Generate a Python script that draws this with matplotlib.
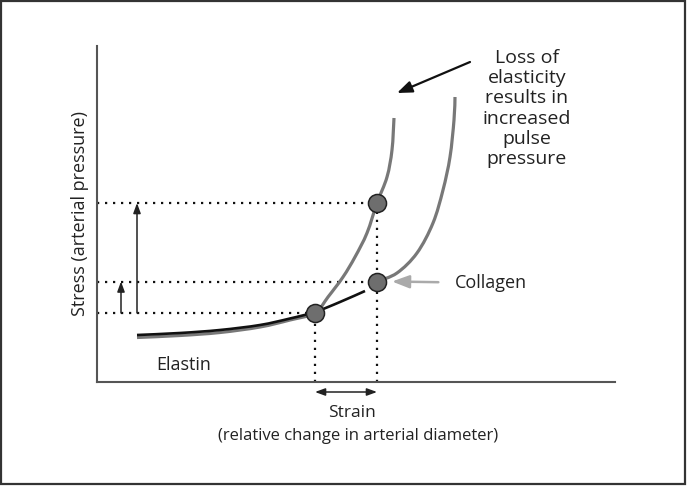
import numpy as np
import matplotlib
matplotlib.use('Agg')
import matplotlib.pyplot as plt
from matplotlib.patches import Rectangle, PathPatch
from matplotlib.path import Path

plt.rcParams['font.family'] = ['Open Sans', 'DejaVu Sans']

# curves (strain, stress in arbitrary units)
elastin_x = [40, 83, 123, 163, 193, 218, 243, 268]
elastin_y = [47, 49, 52, 57, 63.5, 70, 80, 91]

stiff_x = [40, 83, 123, 163, 193, 218, 231, 246, 258, 270, 280, 290, 295, 297]
stiff_y = [44.5, 46.5, 49.5, 55, 62, 69, 85, 105, 125, 149, 179, 205, 232, 264]

collagen_x = [280, 300, 320, 336, 346, 353, 357, 358]
collagen_y = [100.5, 109, 129, 159, 192, 225, 262, 285]

pts_x = [218, 280, 280]
pts_y = [69, 179, 100.5]

loss_text = "Loss of\nelasticity\nresults in\nincreased\npulse\npressure"


def smooth_path(xs, ys):
    # bezier segments through the read points (Catmull-Rom tangents)
    p = np.column_stack([xs, ys]).astype(float)
    verts = [p[0]]
    codes = [Path.MOVETO]
    for i in range(len(p) - 1):
        p0 = p[i - 1] if i > 0 else p[i]
        p3 = p[i + 2] if i + 2 < len(p) else p[i + 1]
        c1 = p[i] + (p[i + 1] - p0) / 6
        c2 = p[i + 1] - (p3 - p[i]) / 6
        verts += [c1, c2, p[i + 1]]
        codes += [Path.CURVE4] * 3
    return Path(verts, codes)


def draw_curve(ax, xs, ys, color, lw, z):
    ax.add_patch(PathPatch(smooth_path(xs, ys), fill=False, edgecolor=color,
                           linewidth=lw, capstyle='butt', zorder=z))


fig = plt.figure(figsize=(6.87, 4.86), dpi=100)
ax = fig.add_axes([97/687, 104/486, 518/687, 336/486])
ax.set_xlim(0, 518)
ax.set_ylim(0, 336)
for s in ['top', 'right']:
    ax.spines[s].set_visible(False)
for s in ['left', 'bottom']:
    ax.spines[s].set_color('#555555')
    ax.spines[s].set_linewidth(1.5)
ax.set_xticks([])
ax.set_yticks([])

# dotted guide lines
dot = dict(color='#111111', linestyle=(0, (1, 2.6)), linewidth=1.6, zorder=1)
ax.plot([0, pts_x[1]], [pts_y[1], pts_y[1]], **dot)
ax.plot([0, pts_x[2]], [pts_y[2], pts_y[2]], **dot)
ax.plot([0, pts_x[0]], [pts_y[0], pts_y[0]], **dot)
ax.plot([pts_x[0], pts_x[0]], [0, pts_y[0]], **dot)
ax.plot([pts_x[1], pts_x[1]], [0, pts_y[1]], **dot)

# curves
draw_curve(ax, stiff_x, stiff_y, '#787878', 2.3, 2)
draw_curve(ax, elastin_x, elastin_y, '#111111', 1.9, 3)
draw_curve(ax, collagen_x, collagen_y, '#787878', 2.3, 2)
ax.plot(pts_x, pts_y, 'o', markersize=13, markerfacecolor='#6e6e6e',
        markeredgecolor='#222222', markeredgewidth=1.1, zorder=4)

# pressure arrows
arr = dict(arrowstyle='-|>,head_length=0.6,head_width=0.22', color='#222222', lw=1.1,
           shrinkA=0, shrinkB=0)
ax.annotate('', xy=(40, pts_y[1]), xytext=(40, pts_y[0]), arrowprops=arr)
ax.annotate('', xy=(24, pts_y[2]), xytext=(24, pts_y[0]), arrowprops=arr)

# strain arrow below axis
ax.annotate('', xy=(pts_x[0], -10), xytext=(pts_x[1], -10), annotation_clip=False,
            arrowprops=dict(arrowstyle='<|-|>,head_length=0.6,head_width=0.22',
                            color='#222222', lw=1.1, shrinkA=0, shrinkB=0))

# loss of elasticity arrow and text
ax.annotate('', xy=(300, 289), xytext=(373, 320), annotation_clip=False,
            arrowprops=dict(arrowstyle='-|>,head_length=0.9,head_width=0.35',
                            color='#111111', lw=1.6, shrinkA=0, shrinkB=0))
ax.text(430, 333, loss_text, ha='center', va='top', fontsize=14,
        linespacing=1.16, color='#222222', clip_on=False)

# collagen label
ax.annotate('Collagen', xy=(295, 100.5), xytext=(358, 99), va='center', ha='left',
            fontsize=13, color='#222222', annotation_clip=False,
            arrowprops=dict(arrowstyle='-|>,head_length=0.8,head_width=0.3',
                            color='#aaaaaa', lw=1.8, shrinkA=10, shrinkB=0))
ax.text(87, 17, 'Elastin', ha='center', va='center', fontsize=13, color='#222222')

ax.text(255, -31, 'Strain', ha='center', va='center', fontsize=12.5, color='#222222',
        clip_on=False)
ax.text(261, -54, '(relative change in arterial diameter)', ha='center', va='center',
        fontsize=12, color='#222222', clip_on=False)
ax.text(-17, 169, 'Stress (arterial pressure)', ha='center', va='center', rotation=90,
        fontsize=13, color='#222222', clip_on=False)

fig.patches.append(Rectangle((0.002, 0.004), 0.995, 0.993, transform=fig.transFigure,
                             fill=False, edgecolor='#333333', linewidth=1.6))

fig.savefig('out.png', dpi=100)
